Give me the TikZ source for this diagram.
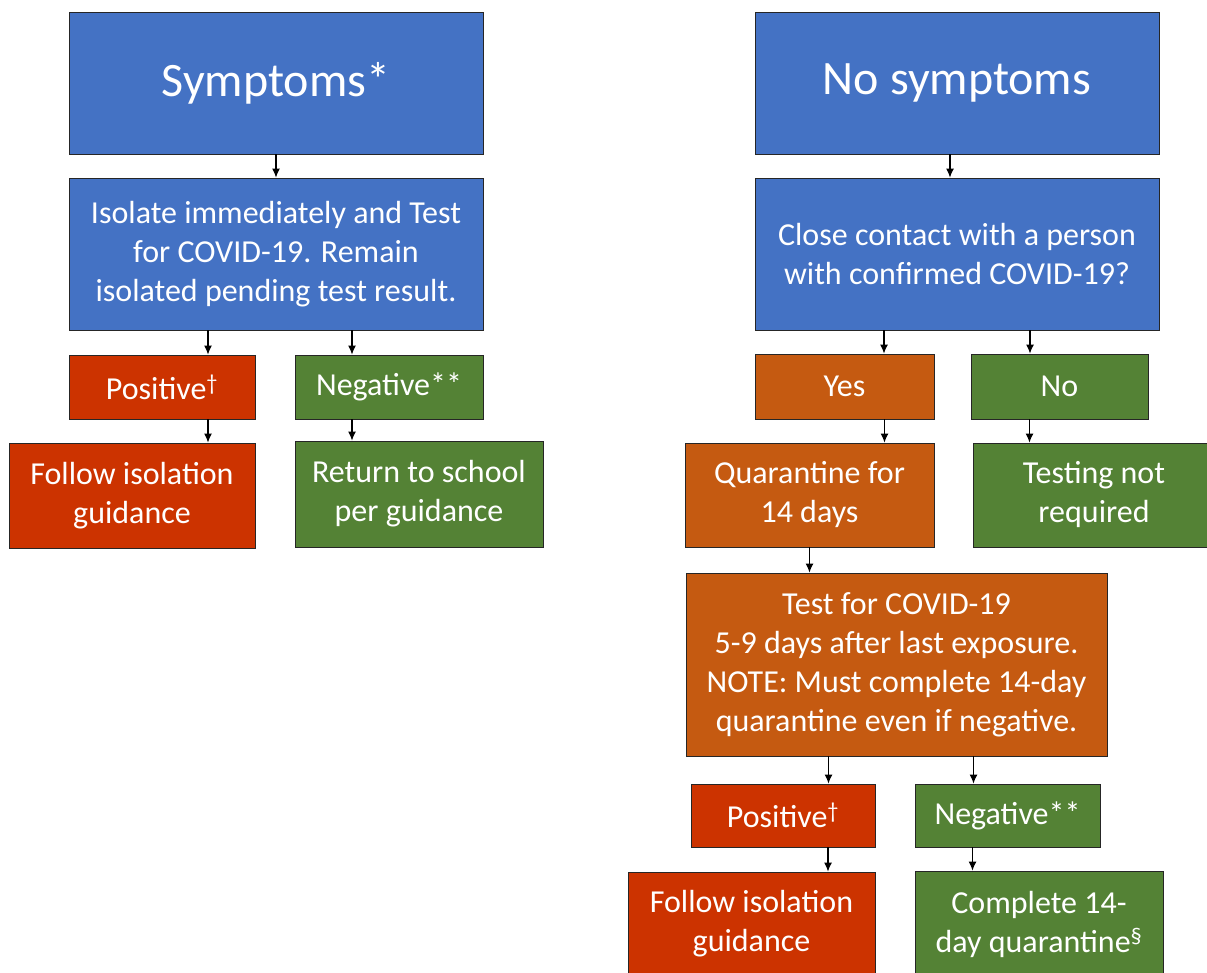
\documentclass[tikz,border=0pt]{standalone}
\usepackage{fontspec}
\setmainfont{Carlito}
\usepackage{xcolor}
\usetikzlibrary{arrows.meta,positioning,calc}

\definecolor{stepblue}{HTML}{4472C4}
\definecolor{steporange}{HTML}{C55A11}
\definecolor{stepred}{HTML}{CC3300}
\definecolor{stepgreen}{HTML}{548235}

\begin{document}
\begin{tikzpicture}[
    x=1pt, y=-1pt,
    >={Latex[length=9pt,width=8pt]},
    box/.style={rectangle, draw=black!85, line width=0.9pt, text=white, align=center, inner sep=0pt, font=\fontsize{32}{39}\selectfont},
    headbox/.style={box, fill=stepblue, font=\fontsize{48}{58}\selectfont},
    bluebox/.style={box, fill=stepblue},
    orangebox/.style={box, fill=steporange},
    redbox/.style={box, fill=stepred},
    greenbox/.style={box, fill=stepgreen},
    link/.style={->, line width=1.1pt}
]
\clip (0,0) rectangle (1207,972);
\fill[white] (0,0) rectangle (1207,972);

% Symptoms branch
\node [headbox, minimum width=414pt, minimum height=142pt] (symptoms) at (276,83) {Symptoms*};
\node [bluebox, minimum width=414pt, minimum height=152pt] (isolate) at (276,254) {Isolate immediately and Test\\for COVID-19. Remain\\isolated pending test result.};
\node [redbox, minimum width=186pt, minimum height=64pt] (posleft) at (162,387) {Positive\textsuperscript{†}};
\node [greenbox, minimum width=188pt, minimum height=64pt] (negleft) at (389,387) {Negative**};
\node [redbox, minimum width=246pt, minimum height=105pt] (followleft) at (132,495.5) {Follow isolation\\guidance};
\node [greenbox, minimum width=248pt, minimum height=106pt] (return) at (419,494) {Return to school\\per guidance};

% No symptoms branch
\node [headbox, minimum width=404pt, minimum height=142pt] (nosymptoms) at (957,83) {No symptoms};
\node [bluebox, minimum width=404pt, minimum height=152pt] (contact) at (957,254) {Close contact with a person\\with confirmed COVID-19?};
\node [orangebox, minimum width=179pt, minimum height=65pt] (yes) at (844.5,386.5) {Yes};
\node [greenbox, minimum width=177pt, minimum height=65pt] (no) at (1059.5,386.5) {No};
\node [orangebox, minimum width=249pt, minimum height=104pt] (quarantine) at (809.5,495) {Quarantine for\\14 days};
\node [greenbox, minimum width=242pt, minimum height=104pt] (notesting) at (1094,495) {Testing not\\required};
\node [orangebox, minimum width=421pt, minimum height=183pt] (testlater) at (896.5,664.5) {Test for COVID-19\\5-9 days after last exposure.\\NOTE: Must complete 14-day\\quarantine even if negative.};
\node [redbox, minimum width=184pt, minimum height=63pt] (posright) at (783,815.5) {Positive\textsuperscript{†}};
\node [greenbox, minimum width=185pt, minimum height=63pt] (negright) at (1007.5,815.5) {Negative**};
\node [redbox, minimum width=247pt, minimum height=104pt] (followright) at (751.5,924) {Follow isolation\\guidance};
\node [greenbox, minimum width=248pt, minimum height=106pt] (complete) at (1039,924) {Complete 14-\\day quarantine\textsuperscript{§}};

% Connections
\draw [link] (symptoms) -- (isolate);
\draw [link] ([xshift=-68pt]isolate.south) -- ([xshift=-68pt]isolate.south |- posleft.north);
\draw [link] ([xshift=76pt]isolate.south) -- ([xshift=76pt]isolate.south |- negleft.north);
\draw [link] ([xshift=46pt]posleft.south) -- ([xshift=46pt]posleft.south |- followleft.north);
\draw [link] ([xshift=-37pt]negleft.south) -- ([xshift=-37pt]negleft.south |- return.north);
\draw [link] ([xshift=-7pt]nosymptoms.south) -- ([xshift=-7pt]nosymptoms.south |- contact.north);
\draw [link] ([xshift=-73pt]contact.south) -- ([xshift=-73pt]contact.south |- yes.north);
\draw [link] ([xshift=73pt]contact.south) -- ([xshift=73pt]contact.south |- no.north);
\draw [link] ([xshift=40pt]yes.south) -- ([xshift=40pt]yes.south |- quarantine.north);
\draw [link] ([xshift=-30pt]no.south) -- ([xshift=-30pt]no.south |- notesting.north);
\draw [link] (quarantine.south) -- (quarantine.south |- testlater.north);
\draw [link] ([xshift=-68pt]testlater.south) -- ([xshift=-68pt]testlater.south |- posright.north);
\draw [link] ([xshift=77pt]testlater.south) -- ([xshift=77pt]testlater.south |- negright.north);
\draw [link] ([xshift=45pt]posright.south) -- ([xshift=45pt]posright.south |- followright.north);
\draw [link] ([xshift=-35pt]negright.south) -- ([xshift=-35pt]negright.south |- complete.north);

\end{tikzpicture}
\end{document}
